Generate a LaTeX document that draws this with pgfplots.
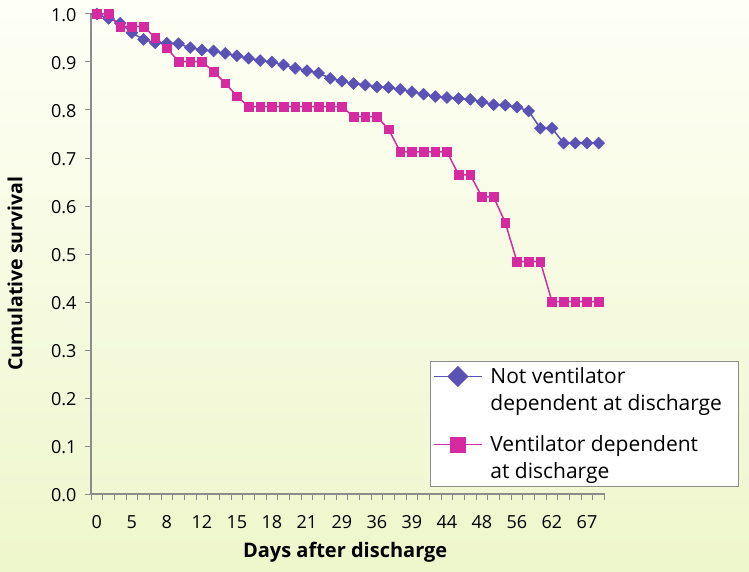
\documentclass[border=0pt]{standalone}
\usepackage{fontspec}
\setmainfont{Open Sans}
\usepackage{pgfplots}
\pgfplotsset{compat=1.18}
\definecolor{serA}{HTML}{5B52B5}
\definecolor{serB}{HTML}{D62BA0}
\definecolor{axgray}{HTML}{8C8C8C}
\definecolor{bgtop}{HTML}{FEFFF6}
\definecolor{bgbot}{HTML}{EEF6CB}
\newcommand\LE[3]{\raisebox{0pt}[#1][#2]{#3}}
\pgfplotstableread{
k v
0 1.000
1 0.991
2 0.981
3 0.961
4 0.947
5 0.940
6 0.939
7 0.938
8 0.930
9 0.925
10 0.923
11 0.918
12 0.913
13 0.908
14 0.903
15 0.900
16 0.894
17 0.887
18 0.882
19 0.877
20 0.866
21 0.860
22 0.855
23 0.852
24 0.848
25 0.847
26 0.843
27 0.838
28 0.833
29 0.828
30 0.826
31 0.824
32 0.822
33 0.817
34 0.811
35 0.810
36 0.806
37 0.798
38 0.762
39 0.762
40 0.731
41 0.731
42 0.731
43 0.731
}\tableA
\pgfplotstableread{
k v
0 1.000
1 1.000
2 0.974
3 0.974
4 0.974
5 0.951
6 0.929
7 0.901
8 0.901
9 0.901
10 0.880
11 0.856
12 0.829
13 0.807
14 0.807
15 0.807
16 0.807
17 0.807
18 0.807
19 0.807
20 0.807
21 0.807
22 0.786
23 0.786
24 0.786
25 0.760
26 0.713
27 0.713
28 0.713
29 0.713
30 0.713
31 0.665
32 0.665
33 0.619
34 0.619
35 0.565
36 0.484
37 0.484
38 0.484
39 0.401
40 0.401
41 0.401
42 0.401
43 0.401
}\tableB
\begin{document}
\begin{tikzpicture}
\shade[top color=bgtop, bottom color=bgbot] (0pt,0pt) rectangle (749pt,571pt);
\useasboundingbox (0pt,0pt) rectangle (749pt,571pt);
\begin{axis}[
  scale only axis, width=513.5pt, height=480pt,
  at={(91pt,77pt)}, anchor=south west,
  xmin=-0.5, xmax=43.5, ymin=0, ymax=1,
  axis lines*=left,
  axis line style={axgray, line width=1.5pt},
  tick align=outside,
  major tick length=6pt,
  tick style={axgray, line width=1pt},
  xtick={-0.5,0.5,...,43.5},
  xticklabels={},
  extra x ticks={0,3,...,42},
  extra x tick labels={0,5,8,12,15,18,21,29,36,39,44,48,56,62,67},
  extra x tick style={major tick length=0pt},
  ytick={0,0.1,0.2,0.3,0.4,0.5,0.6,0.7,0.8,0.9,1.0},
  yticklabel style={/pgf/number format/fixed, /pgf/number format/fixed zerofill, /pgf/number format/precision=1, xshift=-5pt, yshift=-1pt},
  /pgf/number format/assume math mode=true,
  ticklabel style={font=\fontsize{18}{21}\selectfont},
  xticklabel style={yshift=-18pt},
  xlabel={Days after discharge},
  ylabel={Cumulative survival},
  every axis x label/.style={at={(axis description cs:0.495,0)}, anchor=center, yshift=-58pt, font=\fontsize{20}{24}\selectfont\bfseries},
  every axis y label/.style={at={(axis description cs:0,0.459)}, anchor=center, rotate=90, yshift=76pt, font=\fontsize{19.5}{24}\selectfont\bfseries},
  legend style={at={(axis description cs:0.66,0.0146)}, anchor=south west,
    draw=axgray, line width=1pt, fill=white, font=\fontsize{21}{25}\selectfont,
    inner xsep=3pt, inner ysep=4pt, row sep=6pt, column sep=6pt,
    cells={anchor=base west, inner ysep=0pt, inner xsep=3pt}},
  legend image code/.code={
    \draw[mark repeat=2, mark phase=2, #1, line width=1pt, every mark/.append style={scale=1.7}] plot coordinates {(0pt,7pt) (24pt,7pt) (48pt,7pt)};},
]
\addplot[color=serA, line width=1.5pt, mark=square*, mark size=4.2pt, mark options={rotate=45, solid, fill=serA, line width=0.5pt}] table[x=k, y=v] {\tableA};
\addlegendentry{\LE{16pt}{5pt}{Not ventilator}}
\addlegendimage{empty legend}
\addlegendentry{\LE{16pt}{5pt}{dependent at discharge\hspace{12pt}}}
\addplot[color=serB, line width=1.5pt, mark=square*, mark size=4.3pt, mark options={solid, fill=serB, line width=0.5pt}] table[x=k, y=v] {\tableB};
\addlegendentry{\LE{29pt}{5pt}{Ventilator dependent}}
\addlegendimage{empty legend}
\addlegendentry{\LE{16pt}{10pt}{at discharge}}
\end{axis}
\end{tikzpicture}
\end{document}
